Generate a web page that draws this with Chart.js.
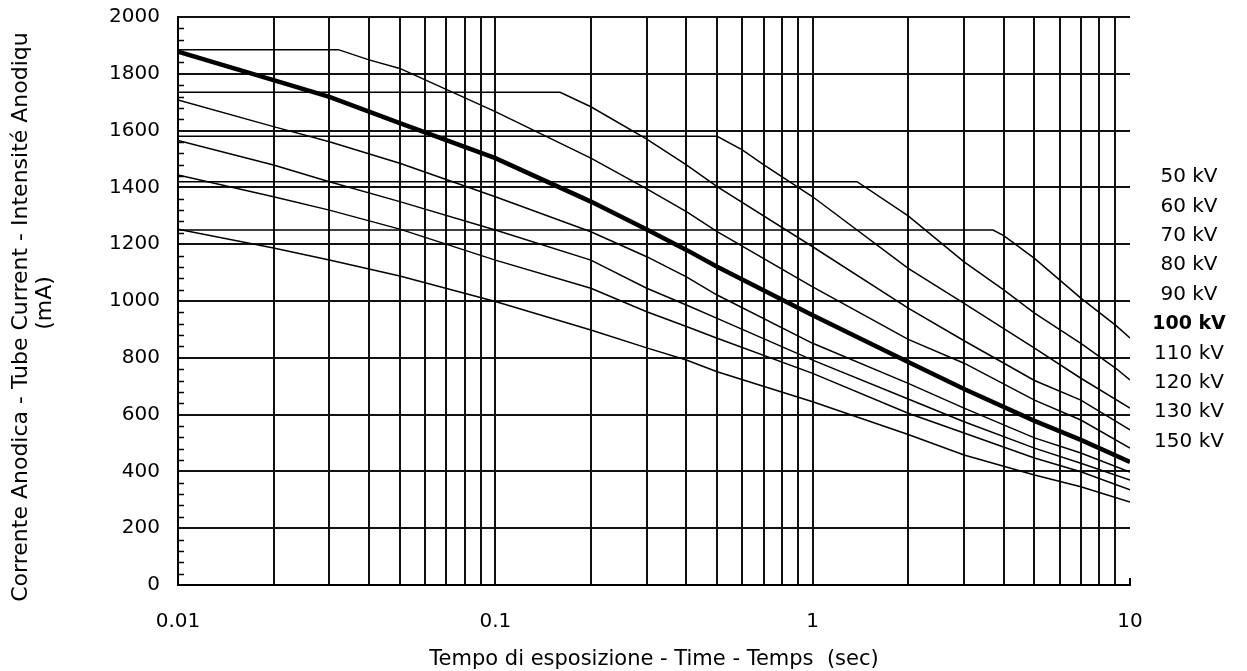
<!DOCTYPE html>
<html>
<head>
<meta charset="utf-8">
<script src="https://cdn.jsdelivr.net/npm/chart.js@4.4.1/dist/chart.umd.min.js"></script>
<style>
  body { margin: 0; background: #fff; }
</style>
</head>
<body>
<canvas id="tubeChart" width="1247" height="671"></canvas>
<script>
// tempo di esposizione (s) / corrente anodica (mA)

const kvLabels = ["50 kV", "60 kV", "70 kV", "80 kV", "90 kV", "100 kV", "110 kV", "120 kV", "130 kV", "150 kV"];

// curve con tratto orizzontale (limite di corrente)
const t50 = [0.01, 3.7, 4, 5, 7, 9, 10];
const mA50 = [1250, 1250, 1230, 1150, 1010, 915, 870];
const t60 = [0.01, 1.38, 2, 3, 4, 5, 7, 9, 10];
const mA60 = [1420, 1420, 1300, 1138, 1039, 957, 851, 764, 722];
const t70 = [0.01, 0.5, 0.6, 0.7, 1, 2, 3, 5, 7, 10];
const mA70 = [1580, 1580, 1532, 1480, 1367, 1115, 992, 834, 728, 623];
const t80 = [0.01, 0.16, 0.2, 0.3, 0.4, 0.5, 1, 2, 3, 5, 7, 10];
const mA80 = [1735, 1735, 1684, 1570, 1479, 1403, 1191, 975, 860, 720, 651, 546];
const t90 = [0.01, 0.032, 0.04, 0.05, 0.1, 0.2, 0.3, 0.4, 0.5, 1, 2, 3, 5, 7, 10];
const mA90 = [1885, 1885, 1849, 1819, 1667, 1503, 1395, 1315, 1244, 1050, 865, 781, 651, 581, 482];

// curve senza tratto orizzontale
const tSlope = [0.01, 0.02, 0.03, 0.05, 0.1, 0.2, 0.3, 0.4, 0.5, 1, 2, 3, 5, 7, 10];
const mA100 = [1878, 1778, 1719, 1626, 1503, 1350, 1252, 1180, 1121, 950, 785, 690, 578, 511, 433];
const mA110 = [1708, 1614, 1561, 1485, 1367, 1244, 1156, 1085, 1021, 851, 710, 623, 518, 465, 398];
const mA120 = [1565, 1479, 1420, 1350, 1250, 1144, 1045, 986, 939, 792, 655, 575, 482, 429, 370];
const mA130 = [1444, 1367, 1320, 1253, 1144, 1045, 962, 910, 869, 745, 605, 535, 447, 399, 335];
const mA150 = [1253, 1187, 1144, 1088, 998, 898, 835, 792, 751, 645, 530, 458, 387, 346, 292];

// assi
const xTickValues = [0.01, 0.1, 1, 10];
const xTickLabels = ["0.01", "0.1", "1", "10"];
const xDecades = [0.01, 0.1, 1];
const yMinorStep = 40;

const FONT = "'DejaVu Sans', sans-serif";

function curve(label, times, values, width) {
  return {
    label: label,
    data: times.map((t, i) => ({ x: t, y: values[i] })),
    borderColor: "#000",
    borderWidth: width,
    pointRadius: 0,
    tension: 0,
    fill: false,
  };
}

// testi fuori dal grafico: titoli e etichette kV
const textPlugin = {
  id: "textPlugin",
  afterDraw(chart) {
    const ctx = chart.ctx;
    const y = chart.scales.y;
    const area = chart.chartArea;
    ctx.save();
    ctx.strokeStyle = "#000";
    ctx.lineWidth = 1.5;
    // tacche minori asse y
    for (let v = 0; v <= 2000; v += yMinorStep) {
      if (v % 200 === 0) continue;
      const py = Math.round(y.getPixelForValue(v)) + 0.5;
      ctx.beginPath();
      ctx.moveTo(area.left, py);
      ctx.lineTo(area.left + 6, py);
      ctx.stroke();
    }
    // tacca a 10 s
    const px = chart.scales.x.getPixelForValue(10);
    ctx.lineWidth = 2;
    ctx.beginPath();
    ctx.moveTo(px, area.bottom);
    ctx.lineTo(px, area.bottom - 7);
    ctx.stroke();

    ctx.fillStyle = "#000";
    ctx.textBaseline = "middle";
    ctx.textAlign = "center";
    // titolo asse x
    ctx.font = "21px " + FONT;
    ctx.fillText("Tempo di esposizione - Time - Temps  (sec)", (area.left + area.right) / 2, 660);
    // titolo asse y
    ctx.save();
    ctx.translate(21, 317);
    ctx.rotate(-Math.PI / 2);
    ctx.font = "22px " + FONT;
    ctx.fillText("Corrente Anodica - Tube Current - Intensité Anodiqu", 0, 0);
    ctx.restore();
    ctx.save();
    ctx.translate(45, 303);
    ctx.rotate(-Math.PI / 2);
    ctx.font = "22px " + FONT;
    ctx.fillText("(mA)", 0, 0);
    ctx.restore();
    // etichette kV
    kvLabels.forEach((lab, i) => {
      ctx.font = (lab === "100 kV" ? "bold 19px " : "20px ") + FONT;
      ctx.fillText(lab, 1189, 177 + i * 29.4);
    });
    ctx.restore();
  },
};

const ctx = document.getElementById("tubeChart").getContext("2d");
const tubeChart = new Chart(ctx, {
  type: "line",
  data: {
    datasets: [
      curve(kvLabels[0], t50, mA50, 1.5),
      curve(kvLabels[1], t60, mA60, 1.5),
      curve(kvLabels[2], t70, mA70, 1.5),
      curve(kvLabels[3], t80, mA80, 1.5),
      curve(kvLabels[4], t90, mA90, 1.5),
      curve(kvLabels[6], tSlope, mA110, 1.5),
      curve(kvLabels[7], tSlope, mA120, 1.5),
      curve(kvLabels[8], tSlope, mA130, 1.5),
      curve(kvLabels[9], tSlope, mA150, 1.5),
      curve(kvLabels[5], tSlope, mA100, 4.5),
    ],
  },
  options: {
    responsive: false,
    animation: false,
    layout: { padding: { top: 17, right: 117, left: 0, bottom: 0 } },
    plugins: {
      legend: { display: false },
      tooltip: { enabled: false },
    },
    scales: {
      x: {
        type: "logarithmic",
        min: 0.01,
        max: 10,
        afterBuildTicks: (scale) => {
          const ticks = [];
          xDecades.forEach((d) => {
            for (let k = 1; k <= 9; k++) ticks.push({ value: Math.round(d * k * 1000) / 1000 });
          });
          ticks.push({ value: 10 });
          scale.ticks = ticks;
        },
        afterFit: (scale) => {
          scale.height = 86;
          scale.paddingLeft = 0;
          scale.paddingRight = 0;
        },
        grid: {
          drawTicks: false,
          lineWidth: 2,
          color: (c) => (c.tick && c.tick.value >= 10 ? "rgba(0,0,0,0)" : "#111"),
        },
        border: { display: true, color: "#000", width: 2 },
        ticks: {
          autoSkip: false,
          maxRotation: 0,
          padding: 25,
          color: "#000",
          font: { family: FONT, size: 20 },
          callback: (value) => {
            const i = xTickValues.findIndex((v) => Math.abs(v - value) < 1e-9);
            return i >= 0 ? xTickLabels[i] : "";
          },
        },
      },
      y: {
        min: 0,
        max: 2000,
        afterFit: (scale) => {
          scale.width = 178;
          // niente margine extra sopra e sotto
          scale.paddingTop = 0;
          scale.paddingBottom = 0;
        },
        grid: { drawTicks: false, lineWidth: 2, color: "#111" },
        border: { display: true, color: "#000", width: 2 },
        ticks: {
          stepSize: 200,
          padding: 18,
          color: "#000",
          font: { family: FONT, size: 20 },
          callback: (value) => String(value),
        },
      },
    },
  },
  plugins: [textPlugin],
});
</script>
</body>
</html>
